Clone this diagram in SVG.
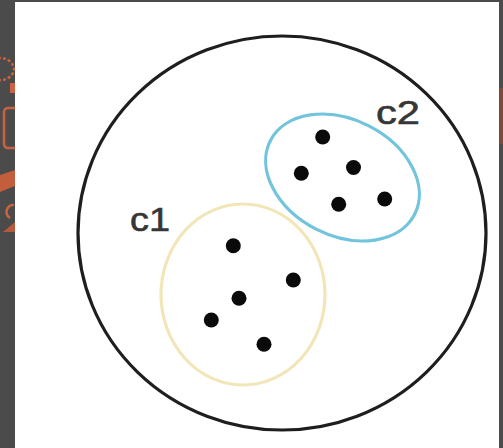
<svg xmlns="http://www.w3.org/2000/svg" width="503" height="448" viewBox="0 0 503 448">
  <style>
    .dot { fill: #0a0a0a; }
    .lbl { font-family: "Liberation Sans", Arial, sans-serif; font-size: 34px; fill: #363636; stroke: #363636; stroke-width: 0.6; }
    .icon { fill: none; stroke: #c96340; stroke-width: 2.5; }
  </style>
  <rect x="0" y="0" width="503" height="448" fill="#4b4b4b"/>
  <rect x="499" y="88" width="4" height="56" fill="#7d4a40"/>
  <g id="sidebar-icons">
    <path class="icon" d="M -2 58 A 14 12 0 0 1 14 70 A 14 12 0 0 1 -2 80" stroke-dasharray="3 2"/>
    <rect x="10" y="83" width="6" height="10" fill="#c96340"/>
    <rect x="4" y="108" width="16" height="40" rx="4" class="icon"/>
    <path d="M 0 175 L 15 170 L 15 186 L 0 192 Z" fill="#c25e3c"/>
    <path class="icon" d="M 14 205 A 7 7 0 0 0 10 218"/>
    <path d="M 3 232 L 15 222 L 15 232 Z" fill="#b65a3a"/>
  </g>
  <rect x="15" y="2" width="484" height="446" fill="#ffffff"/>
  <g id="universe">
    <ellipse cx="282" cy="233" rx="204" ry="197" fill="none" stroke="#1e1e1e" stroke-width="3.2"/>
  </g>
  <g id="c2">
    <ellipse cx="342.5" cy="177.5" rx="81" ry="58" transform="rotate(27 342.5 177.5)" fill="none" stroke="#72c4dc" stroke-width="3.2"/>
    <circle class="dot" cx="322.7" cy="137" r="7.5"/>
    <circle class="dot" cx="301.3" cy="173.3" r="7.5"/>
    <circle class="dot" cx="353.5" cy="167.5" r="7.5"/>
    <circle class="dot" cx="338.7" cy="204.2" r="7.5"/>
    <circle class="dot" cx="384.7" cy="199" r="7.5"/>
    <text class="lbl" x="376" y="124" textLength="44" lengthAdjust="spacingAndGlyphs">c2</text>
  </g>
  <g id="c1">
    <ellipse cx="243" cy="294.5" rx="82" ry="90.5" fill="none" stroke="#f2e6b9" stroke-width="3.2"/>
    <circle class="dot" cx="233.3" cy="245.7" r="7.5"/>
    <circle class="dot" cx="293.3" cy="280" r="7.5"/>
    <circle class="dot" cx="239" cy="298.3" r="7.5"/>
    <circle class="dot" cx="211.3" cy="320" r="7.5"/>
    <circle class="dot" cx="264" cy="344.3" r="7.5"/>
    <text class="lbl" x="130" y="231" textLength="40" lengthAdjust="spacingAndGlyphs">c1</text>
  </g>
  <g id="connectors"/>
</svg>
